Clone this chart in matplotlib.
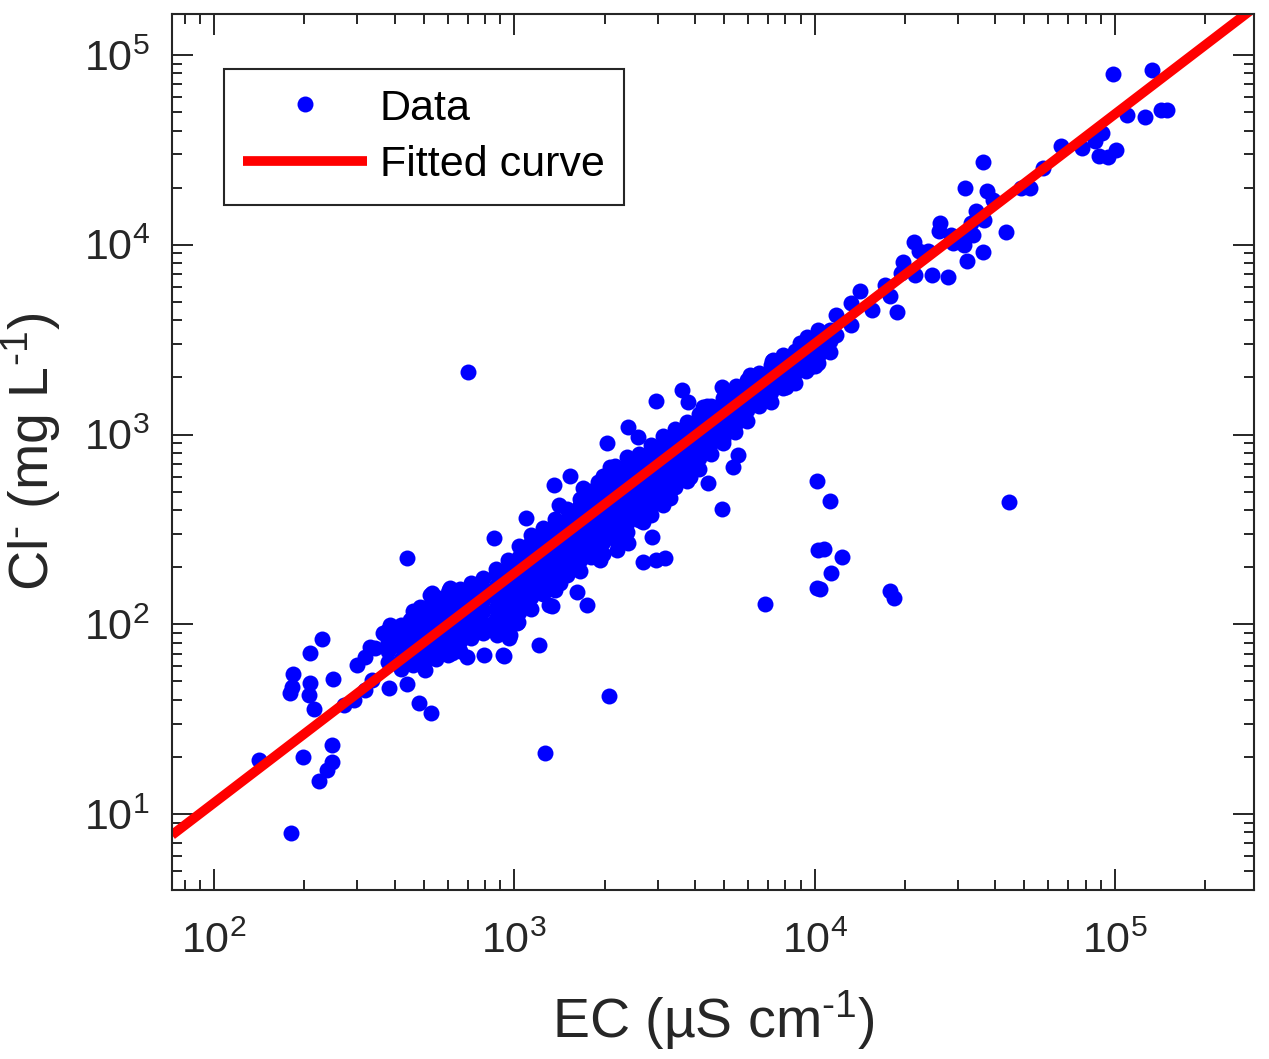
import numpy as np
import matplotlib
matplotlib.use('Agg')
import matplotlib.pyplot as plt

# dense core of the cloud: one EC value per column, Cl values read down the band
core_ec = [380, 420, 460, 500, 550, 600, 660, 720, 790, 870, 950, 1040, 1140,
           1250, 1370, 1500, 1650, 1800, 1980, 2170, 2380, 2600, 2850, 3130,
           3430, 3760, 4120, 4520, 4950, 5430, 5950, 6520, 7150, 7840, 8600,
           9400, 10300, 11300]
core_cl = [
    [93, 82, 72, 63],
    [99, 87, 76, 66, 58],
    [118, 103, 90, 79, 69, 61],
    [122, 107, 94, 82, 72, 63],
    [139, 128, 112, 98, 86, 75, 66],
    [146, 134, 117, 102, 90, 78, 69],
    [154, 140, 122, 107, 94, 82, 72],
    [165, 145, 127, 111, 97, 85],
    [175, 153, 134, 117, 102, 90],
    [195, 183, 160, 140, 122, 107, 94],
    [218, 191, 167, 146, 128, 112, 98],
    [259, 226, 198, 173, 152, 133, 116],
    [294, 270, 237, 207, 181, 159, 139, 121],
    [323, 283, 247, 216, 189, 166, 145],
    [359, 338, 296, 259, 227, 198, 173, 152],
    [404, 353, 309, 270, 237, 207, 181],
    [458, 425, 372, 326, 285, 250, 218, 191],
    [504, 442, 386, 338, 296, 259, 226],
    [602, 527, 461, 404, 353, 309, 270, 236],
    [681, 629, 551, 482, 422, 369, 323, 282],
    [760, 665, 582, 509, 446, 390, 341, 306],
    [787, 689, 602, 527, 461, 403, 353],
    [884, 822, 720, 630, 551, 482, 422, 378],
    [984, 861, 753, 659, 577, 504, 442],
    [1066, 1028, 900, 787, 689, 603, 527],
    [1164, 1076, 941, 824, 721, 631, 570],
    [1285, 1125, 984, 862, 754, 659],
    [1417, 1342, 1174, 1027, 899, 786],
    [1567, 1406, 1230, 1077, 942, 897],
    [1679, 1468, 1285, 1125, 1027],
    [1937, 1758, 1538, 1346, 1178],
    [2099, 1835, 1606, 1406],
    [2330, 2193, 1919, 1680, 1486],
    [2624, 2295, 2008, 1758],
    [2742, 2400, 2100, 1858],
    [3034, 2836, 2482, 2173],
    [3397, 2972, 2601, 2389],
    [3546, 3103, 2717],
]

# individual samples around the core
spread_ec = [141, 180, 198, 247, 247, 238, 224, 229, 209, 183, 182, 179, 209,
             207, 215, 249, 271, 293, 318, 299, 318, 344, 336, 383, 439, 481,
             528, 456, 485, 524, 606, 481, 504, 561, 620, 696, 793, 924, 645,
             799, 876, 960, 1209, 1265, 1305, 439, 701, 856, 1094, 1356, 1532,
             1409, 1693, 1899, 2036, 2391, 2582, 2083, 2964, 3618, 3787, 4250,
             4916, 5559, 5350, 4416, 4916, 3847, 6838, 10190, 10260, 10190,
             8032, 6580, 7270, 9654, 9434, 3176, 2964, 2683, 2874, 2683, 2391,
             2198, 1929, 3300, 3128, 1746, 1617, 1420, 1335, 1029, 967, 611,
             532, 450, 44400, 11250, 10750, 12340, 11340, 10420, 17830, 18380,
             2067, 1592, 917, 1021, 386, 365, 331,
             98560, 132900, 109700, 126000, 142400, 149100, 66150, 77690,
             85830, 90590, 88510, 94830, 100800, 57630, 48680, 52150, 36370,
             31690, 37510, 39280, 34480, 36650, 33170, 43390, 26160, 25960,
             28470, 30970, 33690, 28900, 31450, 36370, 32180, 27810, 21430,
             22260, 23850, 19700, 19400, 21600, 24600, 17160, 17830, 18810,
             14170, 13220, 15530, 11780, 13220, 11780, 10260, 10580, 10030,
             8942, 8472, 7215, 7612, 6530, 6094, 5473, 4383]
spread_cl = [19.3, 7.9, 20.0, 23.1, 18.8, 17.1, 14.9, 83.6, 70.6, 54.7, 46.7,
             43.4, 49.0, 42.4, 35.8, 51.4, 37.5, 39.9, 45.0, 61.0, 67.2, 75.0,
             50.8, 46.1, 48.4, 38.5, 34.1, 108, 123, 143, 152, 64.8, 57.4, 70.6,
             70.6, 67.2, 68.9, 68.0, 85.7, 93.3, 87.8, 84.6, 77.7, 21.0, 126,
             223, 2135, 285, 363, 542, 604, 425, 523, 562, 902, 1095, 970, 674,
             1502, 1717, 1484, 1396, 1780, 780, 674, 555, 405, 597, 128, 569,
             246, 155, 1780, 1520, 2470, 2269, 3265, 223, 218, 213, 288, 346,
             268, 246, 218, 463, 425, 126, 148, 165, 125, 103, 87.8, 155, 146,
             105, 441, 446, 249, 226, 186, 153, 150, 138, 41.9, 198, 68.9, 101,
             99, 89.9, 75.9,
             79400, 83400, 48300, 47100, 51300, 51300, 33150, 32360, 35230,
             38820, 29370, 29010, 31590, 25390, 19920, 19920, 27310, 19920,
             19200, 17220, 15070, 13510, 13020, 11680, 13020, 11820, 11260,
             11130, 11260, 10220, 9970, 9160, 8210, 6760, 10340, 9270, 9270,
             8110, 7100, 6930, 6930, 6140, 5370, 4420, 5710, 4930, 4530, 4260,
             3780, 3350, 3560, 2930, 2300, 3040, 2380, 2440, 2030, 1520, 2060,
             1800, 1410]

# power-law fit Cl = a * EC^b
fit_a = 0.0435
fit_b = 1.21

x_lim = (72.5, 2.906e5)
y_lim = (3.98, 1.645e5)

ink = '#262626'
plt.rcParams['font.family'] = ['Liberation Sans', 'DejaVu Sans']
plt.rcParams['mathtext.fontset'] = 'custom'
plt.rcParams['mathtext.rm'] = 'Liberation Sans'
plt.rcParams['mathtext.it'] = 'Liberation Sans:italic'
plt.rcParams['mathtext.bf'] = 'Liberation Sans:bold'


def main():
    ec = [e for e, col in zip(core_ec, core_cl) for _ in col] + spread_ec
    cl = [c for col in core_cl for c in col] + spread_cl

    fig = plt.figure(figsize=(12.69, 10.59), dpi=100)
    ax = fig.add_axes([0.1355, 0.1596, 0.8527, 0.8272])

    ax.plot(ec, cl, 'o', color='b', ms=11.5, mew=0, label='Data')
    xf = np.array(x_lim)
    ax.plot(xf, fit_a * xf ** fit_b, '-', color='r', lw=7,
            solid_capstyle='butt', label='Fitted curve')

    ax.set_xscale('log')
    ax.set_yscale('log')
    ax.set_xlim(*x_lim)
    ax.set_ylim(*y_lim)

    ax.tick_params(which='both', direction='in', top=True, right=True,
                   width=1.4, color=ink, labelsize=31, labelcolor=ink)
    ax.tick_params(which='major', length=15)
    ax.tick_params(which='minor', length=7)
    ax.tick_params(axis='x', which='major', pad=23)
    ax.tick_params(axis='y', which='major', pad=16)
    for s in ax.spines.values():
        s.set_linewidth(1.5)
        s.set_color(ink)

    # MATLAB-style short hyphen (U+2010) in the superscripts
    ax.set_xlabel('EC (µS cm$^{\u20101}$)', fontsize=40, color=ink,
                  labelpad=19)
    ax.set_ylabel('Cl$^{\u2010}$ (mg L$^{\u20101}$)', fontsize=40, color=ink,
                  labelpad=15)

    leg = ax.legend(loc='upper left', bbox_to_anchor=(0.048, 0.937),
                    borderaxespad=0, fontsize=31, fancybox=False,
                    edgecolor=ink, framealpha=1, handlelength=2.87,
                    handletextpad=0.3, labelspacing=0.39, borderpad=0.45,
                    numpoints=1)
    leg.get_frame().set_linewidth(1.5)

    fig.savefig('out.png', dpi=100)


if __name__ == '__main__':
    main()
